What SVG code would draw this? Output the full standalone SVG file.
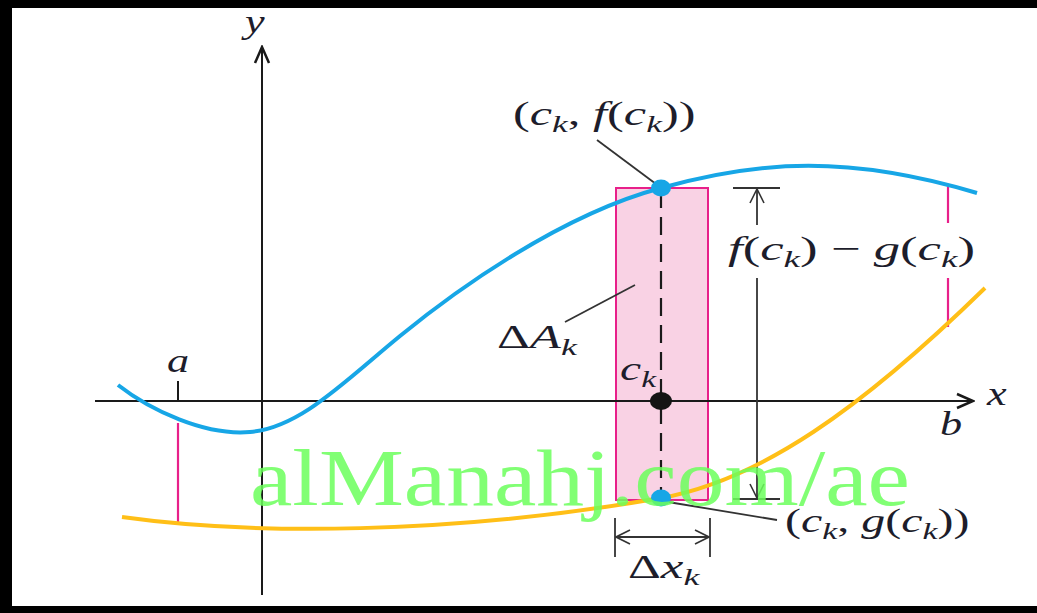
<svg xmlns="http://www.w3.org/2000/svg" width="1037" height="613" viewBox="0 0 1037 613">
<defs>
<style>
.lbl{font-family:"Liberation Serif","DejaVu Serif",serif;font-size:34px;fill:#1d1d2b}
.i{font-style:italic}
.sub{font-size:24px;font-style:italic}
.ax{stroke:#1a1a1a;stroke-width:2;fill:none}
.thin{stroke:#333;stroke-width:1.8;fill:none}
.mag{stroke:#e8208a;stroke-width:2.2;fill:none}
.wm{font-family:"Liberation Serif",serif;font-size:80px;fill:#6cff5c;opacity:0.85}
</style>
<marker id="axArrow" viewBox="0 0 20 20" refX="18" refY="10" markerWidth="20" markerHeight="20" markerUnits="userSpaceOnUse" orient="auto">
<path d="M2,3 L18,10 L2,17" fill="none" stroke="#1a1a1a" stroke-width="2.5"/>
</marker>
<marker id="dimArrow" viewBox="0 0 16 16" refX="15" refY="8" markerWidth="16" markerHeight="16" markerUnits="userSpaceOnUse" orient="auto">
<path d="M1,1 L15,8 L1,15" fill="none" stroke="#333" stroke-width="1.6"/>
</marker>
</defs>
<rect x="0" y="0" width="1037" height="613" fill="#ffffff"/>
<g id="frame">
<rect x="0" y="0" width="1037" height="8" fill="#000"/>
<rect x="0" y="0" width="12" height="613" fill="#000"/>
<rect x="0" y="606" width="1037" height="7" fill="#000"/>
</g>
<g id="rectangle">
<rect x="616" y="188" width="92" height="312" fill="#f9d2e4" stroke="#e8208a" stroke-width="2"/>
</g>
<g id="connectors">
<line class="ax" x1="95" y1="401" x2="973" y2="401" marker-end="url(#axArrow)"/>
<line class="ax" x1="262" y1="595" x2="262" y2="47" marker-end="url(#axArrow)"/>
<line class="ax" x1="178" y1="381" x2="178" y2="401"/>
<line class="mag" x1="178" y1="423" x2="178" y2="523"/>
<line class="mag" x1="948" y1="185" x2="948" y2="223"/>
<line class="mag" x1="948" y1="278" x2="948" y2="327"/>
<line x1="661" y1="190" x2="661" y2="498" stroke="#1a1a1a" stroke-width="2.2" stroke-dasharray="18 9"/>
<line class="thin" x1="597" y1="140" x2="656" y2="184"/>
<line class="thin" x1="565" y1="322" x2="635" y2="285"/>
<line class="thin" x1="668" y1="502" x2="777" y2="520"/>
<line class="thin" x1="733" y1="188" x2="780" y2="188"/>
<line class="thin" x1="757" y1="225" x2="757" y2="189" marker-end="url(#dimArrow)"/>
<line class="thin" x1="757" y1="278" x2="757" y2="498" marker-end="url(#dimArrow)"/>
<line class="thin" x1="733" y1="499" x2="780" y2="499"/>
<line class="thin" x1="615" y1="518" x2="615" y2="557"/>
<line class="thin" x1="710" y1="518" x2="710" y2="557"/>
<line class="thin" x1="663" y1="537" x2="616" y2="537" marker-end="url(#dimArrow)"/>
<line class="thin" x1="663" y1="537" x2="709" y2="537" marker-end="url(#dimArrow)"/>
</g>
<g id="curve-f">
<path d="M118,385 C150,410 205,436 250,432 C300,428 345,381 400,336 C455,291 560,215 661,188 C760,160 850,155 977,193" fill="none" stroke="#17a6e6" stroke-width="4"/>
</g>
<g id="curve-g">
<path d="M122,517 C250,535 450,535 661,498 C760,480 860,410 985,288" fill="none" stroke="#ffbf17" stroke-width="4"/>
</g>
<g id="points">
<ellipse cx="661" cy="188" rx="10" ry="8.5" fill="#17a6e6"/>
<ellipse cx="661" cy="401" rx="11" ry="9" fill="#141414"/>
<ellipse cx="661" cy="498" rx="10" ry="8.5" fill="#17a6e6"/>
</g>
<g id="labels">
<text class="lbl" transform="translate(513,125) scale(1.48,1)">(<tspan class="i">c</tspan><tspan class="sub" dy="7">k</tspan><tspan dy="-7">, </tspan><tspan class="i">f</tspan>(<tspan class="i">c</tspan><tspan class="sub" dy="7">k</tspan><tspan dy="-7">))</tspan></text>
<text class="lbl" transform="translate(728,260) scale(1.55,1)"><tspan class="i">f</tspan>(<tspan class="i">c</tspan><tspan class="sub" dy="7">k</tspan><tspan dy="-7">) − </tspan><tspan class="i">g</tspan>(<tspan class="i">c</tspan><tspan class="sub" dy="7">k</tspan><tspan dy="-7">)</tspan></text>
<text class="lbl" transform="translate(497,348) scale(1.5,1)">Δ<tspan class="i">A</tspan><tspan class="sub" dy="7">k</tspan></text>
<text class="lbl" transform="translate(620,380) scale(1.4,1)"><tspan class="i">c</tspan><tspan class="sub" dy="7">k</tspan></text>
<text class="lbl" transform="translate(628,578) scale(1.5,1)">Δ<tspan class="i">x</tspan><tspan class="sub" dy="7">k</tspan></text>
<text class="lbl" transform="translate(785,532) scale(1.41,1)">(<tspan class="i">c</tspan><tspan class="sub" dy="7">k</tspan><tspan dy="-7">, </tspan><tspan class="i">g</tspan>(<tspan class="i">c</tspan><tspan class="sub" dy="7">k</tspan><tspan dy="-7">))</tspan></text>
<text class="lbl i" transform="translate(167,372) scale(1.3,1)">a</text>
<text class="lbl i" transform="translate(940,435) scale(1.3,1)">b</text>
<text class="lbl i" transform="translate(987,405) scale(1.3,1)">x</text>
<text class="lbl i" transform="translate(245,33) scale(1.3,1)">y</text>
</g>
<text class="wm" x="250" y="505" textLength="660" lengthAdjust="spacingAndGlyphs">alManahj.com/ae</text>
</svg>
